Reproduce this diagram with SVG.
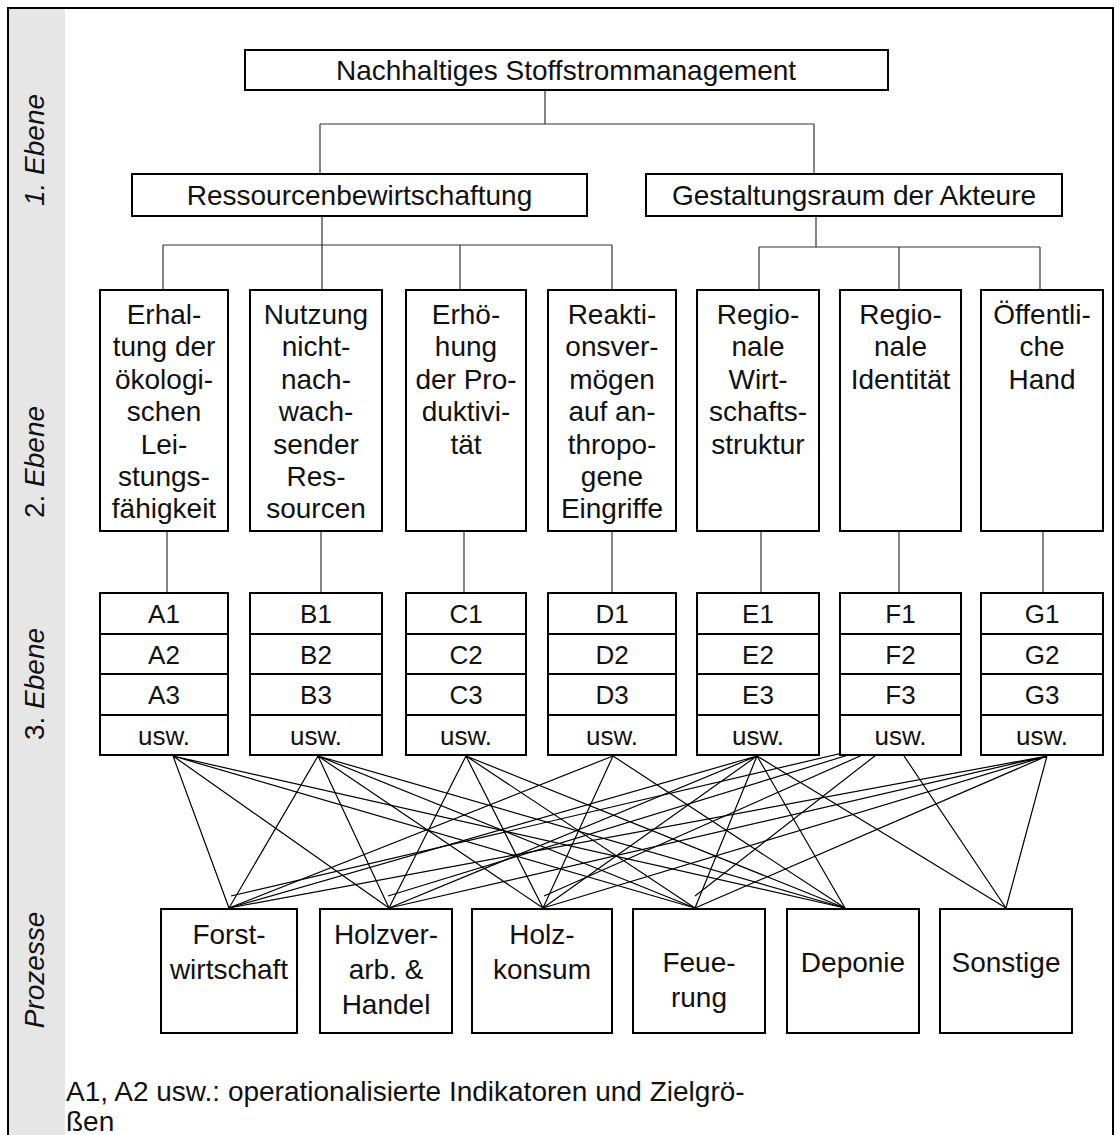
<svg xmlns="http://www.w3.org/2000/svg" width="1120" height="1135" viewBox="0 0 1120 1135">
<style>
.box{fill:#fff;stroke:#000;stroke-width:2}
.t{font-family:"Liberation Sans",Arial,sans-serif;font-size:28px;text-anchor:middle;fill:#111}
.s{font-size:26px}
.lab{font-family:"Liberation Sans",Arial,sans-serif;font-size:28px;text-anchor:middle;fill:#111;font-style:italic}
.up{font-style:normal}
.c{stroke:#333;stroke-width:1.2;fill:none}
.x{stroke:#000;stroke-width:1.2;fill:none}
</style>
<rect x="0" y="0" width="1120" height="1135" fill="#fff"/>
<rect x="9" y="9" width="56" height="1130" fill="#e6e6e6"/>
<path d="M8 1140V8H1113V1140" fill="none" stroke="#000" stroke-width="2"/>
<g id="labels">
<text class="lab" transform="rotate(-90 44 150)" x="44" y="150">1. Ebene</text>
<text class="lab" transform="rotate(-90 44 462)" x="44" y="462"><tspan class="up">2. </tspan>Ebene</text>
<text class="lab" transform="rotate(-90 44 684)" x="44" y="684"><tspan class="up">3. </tspan>Ebene</text>
<text class="lab" transform="rotate(-90 44 970)" x="44" y="970">Prozesse</text>
</g>
<g id="connectors">
<path class="c" d="M545 90V124M320 124H814M320 124V174M814 124V174"/>
<path class="c" d="M322 216V290M163 245H612M163 245V290M460 245V290M612 245V290"/>
<path class="c" d="M816 216V247M759 247H1040M759 247V290M899 247V290M1040 247V290"/>
<path class="c" d="M167 531V593M321 531V593M464 531V593M612 531V593M761 531V593M899 531V593M1043 531V593"/>
<g class="x">
<path d="M173 756L229 908M173 756L389 908M173 756L695 908M173 756L845 908"/>
<path d="M318 756L229 908M318 756L389 908M318 756L543 908M318 756L695 908M318 756L845 908"/>
<path d="M466 756L389 908M466 756L543 908M466 756L695 908M466 756L845 908"/>
<path d="M613 756L229 908M613 756L543 908M613 756L845 908"/>
<path d="M757 756L229 908M757 756L389 908M757 756L543 908M757 756L695 908M757 756L845 908M757 756L1006 908"/>
<path d="M894 741L231 896M894 741L388 896M894 741L544 896M894 741L695 896M894 741L1006 908"/>
<path d="M1047 756L229 908M1047 756L389 908M1047 756L543 908M1047 756L695 908M1047 756L1006 908"/>
</g>
</g>
<g id="top">
<rect class="box" x="245" y="50" width="643" height="40"/>
<text class="t" x="566" y="80">Nachhaltiges Stoffstrommanagement</text>
</g>
<g id="ressourcen">
<rect class="box" x="132" y="174" width="455" height="42"/>
<text class="t" x="359.5" y="205">Ressourcenbewirtschaftung</text>
</g>
<g id="gestaltung">
<rect class="box" x="646" y="174" width="416" height="42"/>
<text class="t" x="854" y="205">Gestaltungsraum der Akteure</text>
</g>
<g id="n2a"><rect class="box" x="100" y="290" width="128" height="241"/>
<text class="t" x="164" y="324">Erhal-<tspan x="164" dy="32.4">tung der</tspan><tspan x="164" dy="32.4">ökologi-</tspan><tspan x="164" dy="32.4">schen</tspan><tspan x="164" dy="32.4">Lei-</tspan><tspan x="164" dy="32.4">stungs-</tspan><tspan x="164" dy="32.4">fähigkeit</tspan></text></g>
<g id="n2b"><rect class="box" x="250" y="290" width="132" height="241"/>
<text class="t" x="316" y="324">Nutzung<tspan x="316" dy="32.4">nicht-</tspan><tspan x="316" dy="32.4">nach-</tspan><tspan x="316" dy="32.4">wach-</tspan><tspan x="316" dy="32.4">sender</tspan><tspan x="316" dy="32.4">Res-</tspan><tspan x="316" dy="32.4">sourcen</tspan></text></g>
<g id="n2c"><rect class="box" x="406" y="290" width="120" height="241"/>
<text class="t" x="466" y="324">Erhö-<tspan x="466" dy="32.4">hung</tspan><tspan x="466" dy="32.4">der Pro-</tspan><tspan x="466" dy="32.4">duktivi-</tspan><tspan x="466" dy="32.4">tät</tspan></text></g>
<g id="n2d"><rect class="box" x="548" y="290" width="128" height="241"/>
<text class="t" x="612" y="324">Reakti-<tspan x="612" dy="32.4">onsver-</tspan><tspan x="612" dy="32.4">mögen</tspan><tspan x="612" dy="32.4">auf an-</tspan><tspan x="612" dy="32.4">thropo-</tspan><tspan x="612" dy="32.4">gene</tspan><tspan x="612" dy="32.4">Eingriffe</tspan></text></g>
<g id="n2e"><rect class="box" x="697" y="290" width="122" height="241"/>
<text class="t" x="758" y="324">Regio-<tspan x="758" dy="32.4">nale</tspan><tspan x="758" dy="32.4">Wirt-</tspan><tspan x="758" dy="32.4">schafts-</tspan><tspan x="758" dy="32.4">struktur</tspan></text></g>
<g id="n2f"><rect class="box" x="840" y="290" width="121" height="241"/>
<text class="t" x="900.5" y="324">Regio-<tspan x="900.5" dy="32.4">nale</tspan><tspan x="900.5" dy="32.4">Identität</tspan></text></g>
<g id="n2g"><rect class="box" x="981" y="290" width="122" height="241"/>
<text class="t" x="1042" y="324">Öffentli-<tspan x="1042" dy="32.4">che</tspan><tspan x="1042" dy="32.4">Hand</tspan></text></g>
<g id="n3a"><rect class="box" x="100" y="593" width="128" height="162"/><path class="box" d="M100 634H228M100 674H228M100 715H228"/>
<text class="t s" x="164" y="623">A1</text><text class="t s" x="164" y="664">A2</text><text class="t s" x="164" y="704">A3</text><text class="t s" x="164" y="745">usw.</text></g>
<g id="n3b"><rect class="box" x="250" y="593" width="132" height="162"/><path class="box" d="M250 634H382M250 674H382M250 715H382"/>
<text class="t s" x="316" y="623">B1</text><text class="t s" x="316" y="664">B2</text><text class="t s" x="316" y="704">B3</text><text class="t s" x="316" y="745">usw.</text></g>
<g id="n3c"><rect class="box" x="406" y="593" width="120" height="162"/><path class="box" d="M406 634H526M406 674H526M406 715H526"/>
<text class="t s" x="466" y="623">C1</text><text class="t s" x="466" y="664">C2</text><text class="t s" x="466" y="704">C3</text><text class="t s" x="466" y="745">usw.</text></g>
<g id="n3d"><rect class="box" x="548" y="593" width="128" height="162"/><path class="box" d="M548 634H676M548 674H676M548 715H676"/>
<text class="t s" x="612" y="623">D1</text><text class="t s" x="612" y="664">D2</text><text class="t s" x="612" y="704">D3</text><text class="t s" x="612" y="745">usw.</text></g>
<g id="n3e"><rect class="box" x="697" y="593" width="122" height="162"/><path class="box" d="M697 634H819M697 674H819M697 715H819"/>
<text class="t s" x="758" y="623">E1</text><text class="t s" x="758" y="664">E2</text><text class="t s" x="758" y="704">E3</text><text class="t s" x="758" y="745">usw.</text></g>
<g id="n3f"><rect class="box" x="840" y="593" width="121" height="162"/><path class="box" d="M840 634H961M840 674H961M840 715H961"/>
<text class="t s" x="900.5" y="623">F1</text><text class="t s" x="900.5" y="664">F2</text><text class="t s" x="900.5" y="704">F3</text><text class="t s" x="900.5" y="745">usw.</text></g>
<g id="n3g"><rect class="box" x="981" y="593" width="122" height="162"/><path class="box" d="M981 634H1103M981 674H1103M981 715H1103"/>
<text class="t s" x="1042" y="623">G1</text><text class="t s" x="1042" y="664">G2</text><text class="t s" x="1042" y="704">G3</text><text class="t s" x="1042" y="745">usw.</text></g>
<g id="p1"><rect class="box" x="161" y="909" width="136" height="124"/>
<text class="t" x="229" y="944">Forst-<tspan x="229" dy="35">wirtschaft</tspan></text></g>
<g id="p2"><rect class="box" x="320" y="909" width="132" height="124"/>
<text class="t" x="386" y="944">Holzver-<tspan x="386" dy="35">arb. &amp;</tspan><tspan x="386" dy="35">Handel</tspan></text></g>
<g id="p3"><rect class="box" x="472" y="909" width="140" height="124"/>
<text class="t" x="542" y="944">Holz-<tspan x="542" dy="35">konsum</tspan></text></g>
<g id="p4"><rect class="box" x="633" y="909" width="132" height="124"/>
<text class="t" x="699" y="972">Feue-<tspan x="699" dy="35">rung</tspan></text></g>
<g id="p5"><rect class="box" x="787" y="909" width="132" height="124"/>
<text class="t" x="853" y="972">Deponie</text></g>
<g id="p6"><rect class="box" x="940" y="909" width="132" height="124"/>
<text class="t" x="1006" y="972">Sonstige</text></g>
<g id="note">
<text class="t" style="text-anchor:start" x="66" y="1101">A1, A2 usw.: operationalisierte Indikatoren und Zielgrö-</text>
<text class="t" style="text-anchor:start" x="66" y="1131">ßen</text>
</g>
</svg>
